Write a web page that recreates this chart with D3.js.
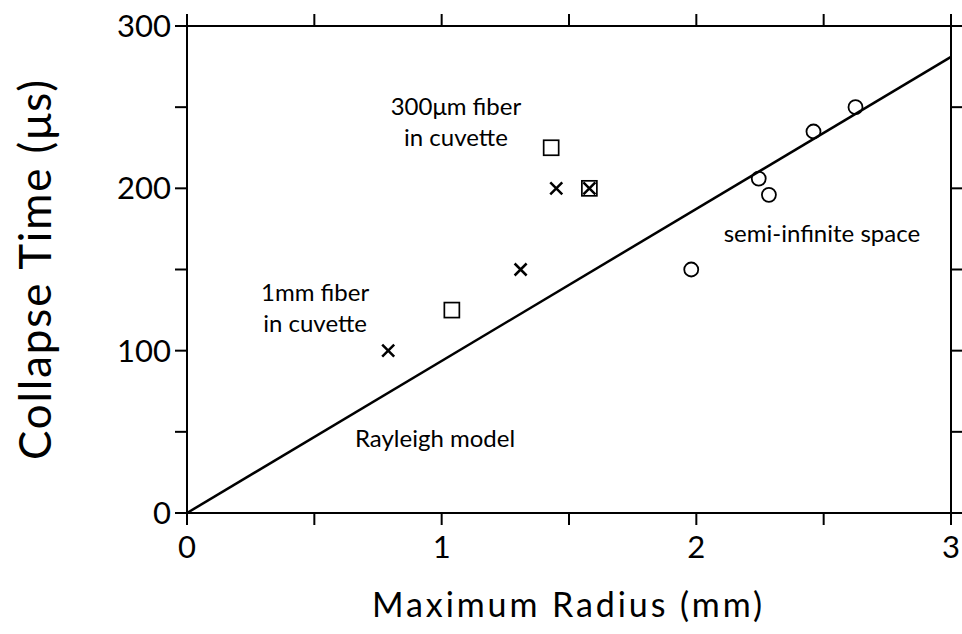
<!DOCTYPE html>
<html><head><meta charset="utf-8">
<script src="https://cdn.jsdelivr.net/npm/d3@7"></script>
<style>body{margin:0;background:#fff}svg{display:block}text{font-family:Lato,"Open Sans",sans-serif;fill:#000}</style>
</head><body>
<svg id="chart" width="962" height="634"></svg>
<script>
const rayleighLine = [[0,0],[3,281]];
const fiber1mmCross = [[0.79,100],[1.31,150],[1.45,200],[1.58,200]];
const fiber300Square = [[1.04,125],[1.43,225],[1.58,200]];
const semiInfCircle = [[1.98,150],[2.245,206],[2.285,196],[2.46,235],[2.625,250]];
const xTicks = [0,0.5,1,1.5,2,2.5,3];
const yTicks = [0,50,100,150,200,250,300];
const xLabels = {0:"0",1:"1",2:"2",3:"3"};
const yLabels = {0:"0",100:"100",200:"200",300:"300"};
const annotations = [
  {x:1.056,y:245,lines:["300μm fiber","in cuvette"]},
  {x:0.503,y:130.6,lines:["1mm fiber","in cuvette"]},
  {x:2.493,y:167,lines:["semi-infinite space"]},
  {x:0.974,y:40.6,lines:["Rayleigh model"]}
];

const svg = d3.select("#chart");
const L=187,R=951,T=26,B=513;
const x = d3.scaleLinear().domain([0,3]).range([L,R]);
const y = d3.scaleLinear().domain([0,300]).range([B,T]);
const tick=12;
const g = svg.append("g").attr("stroke","#000").attr("stroke-width",2).attr("fill","none");

g.append("line").attr("x1",L).attr("x2",R).attr("y1",B).attr("y2",B);
g.append("line").attr("x1",L).attr("x2",R).attr("y1",T).attr("y2",T);
g.append("line").attr("x1",L).attr("x2",L).attr("y1",T).attr("y2",B);
g.append("line").attr("x1",R).attr("x2",R).attr("y1",T).attr("y2",B);
xTicks.forEach(v=>{
  g.append("line").attr("x1",x(v)).attr("x2",x(v)).attr("y1",B).attr("y2",B+tick);
  g.append("line").attr("x1",x(v)).attr("x2",x(v)).attr("y1",T).attr("y2",T-tick);
});
yTicks.forEach(v=>{
  g.append("line").attr("x1",L).attr("x2",L-tick).attr("y1",y(v)).attr("y2",y(v));
  g.append("line").attr("x1",R).attr("x2",R+tick).attr("y1",y(v)).attr("y2",y(v));
});
Object.keys(xLabels).forEach(k=>{
  svg.append("text").attr("x",x(+k)).attr("y",B+45).attr("text-anchor","middle").attr("font-size",31).text(xLabels[k]);
});
Object.keys(yLabels).forEach(k=>{
  svg.append("text").attr("x",L-16).attr("y",y(+k)+11).attr("text-anchor","end").attr("font-size",31).text(yLabels[k]);
});
svg.append("text").attr("x",372).attr("y",617).attr("font-size",34)
  .attr("textLength",390).attr("lengthAdjust","spacing").text("Maximum Radius (mm)");
svg.append("text").attr("transform","translate(51,460) rotate(-90)").attr("font-size",44)
  .attr("textLength",380).attr("lengthAdjust","spacing").text("Collapse Time (μs)");

g.append("path").attr("d",d3.line().x(d=>x(d[0])).y(d=>y(d[1]))(rayleighLine)).attr("stroke-width",2.5);

const ms = g.append("g");
fiber1mmCross.forEach(d=>{
  const cx=x(d[0]),cy=y(d[1]),s=6;
  ms.append("path").attr("d",`M${cx-s},${cy-s}L${cx+s},${cy+s}M${cx-s},${cy+s}L${cx+s},${cy-s}`).attr("stroke-width",2.5);
});
fiber300Square.forEach(d=>{
  const s=15;
  ms.append("rect").attr("x",x(d[0])-s/2).attr("y",y(d[1])-s/2).attr("width",s).attr("height",s).attr("stroke-width",1.7);
});
semiInfCircle.forEach(d=>{
  ms.append("circle").attr("cx",x(d[0])).attr("cy",y(d[1])).attr("r",7).attr("stroke-width",1.8);
});

annotations.forEach(a=>{
  a.lines.forEach((t,i)=>{
    svg.append("text").attr("x",x(a.x)).attr("y",y(a.y)+i*31).attr("font-size",24)
      .attr("text-anchor","middle").text(t);
  });
});
</script>
</body></html>
